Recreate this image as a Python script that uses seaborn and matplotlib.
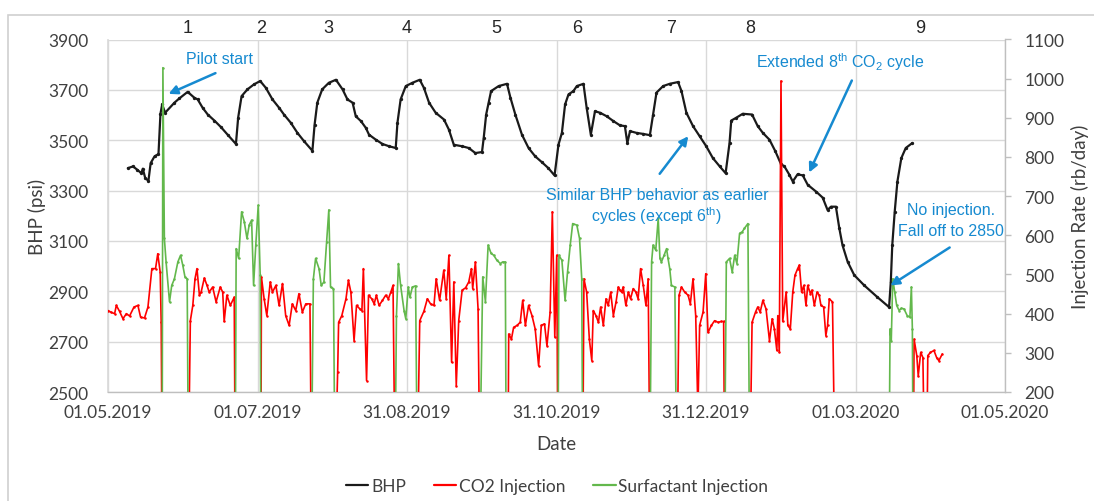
import numpy as np
import pandas as pd
import matplotlib
matplotlib.use("Agg")
import matplotlib.pyplot as plt
import seaborn as sns
from matplotlib.lines import Line2D
from matplotlib.patches import Rectangle

# ---------------- data (days after 01.05.2019) ----------------
bhp_day = [8.1, 10.2, 11.9, 13.6, 14.2, 15.2, 16.5, 17.4, 19.0, 20.6, 21.4, 22.1, 23.3, 27.1, 29.1,
           32.5, 35.2, 36.6, 38.6, 40.7, 43.4, 46.1, 48.8, 52.2, 53.1, 54.5, 56.9, 59.6, 62.1, 64.4,
           67.1, 69.8, 71.8, 74.6, 77.3, 80.0, 83.4, 84.3, 85.4, 87.4, 90.1, 93.0, 95.7, 97.7, 99.8,
           101.1, 103.2, 105.2, 106.5, 109.3, 112.0, 114.7, 117.4, 118.1, 119.4, 121.5, 124.2, 127.2,
           128.9, 131.0, 133.7, 137.1, 139.1, 141.1, 144.5, 147.2, 149.9, 152.6, 153.3, 154.3, 155.3,
           156.3, 159.4, 162.8, 164.2, 166.2, 168.9, 171.6, 174.3, 177.0, 179.7, 182.2, 183.8, 185.2,
           186.5, 187.9, 189.9, 191.3, 194.0, 195.3, 197.0, 198.7, 200.8, 203.5, 206.2, 208.9, 210.9,
           211.9, 213.0, 215.7, 218.4, 221.1, 222.4, 223.8, 226.5, 229.2, 232.6, 234.0, 236.0, 238.7,
           241.4, 244.1, 246.8, 249.6, 252.0, 253.6, 254.3, 256.3, 259.0, 262.8, 265.1, 267.2, 269.9,
           272.3, 274.6, 276.0, 278.0, 279.4, 281.4, 283.5, 285.5, 288.9, 291.6, 293.6, 295.0, 297.0,
           298.4, 299.7, 301.8, 304.5, 308.5, 313.9, 318.7, 319.4, 320.0, 321.0, 322.1, 323.7, 325.5,
           328.2]
bhp_psi = [3389, 3396, 3383, 3369, 3387, 3349, 3339, 3409, 3436, 3445, 3605, 3642, 3609, 3649, 3666,
           3692, 3669, 3662, 3629, 3602, 3578, 3552, 3522, 3485, 3589, 3675, 3702, 3722, 3735, 3708,
           3662, 3629, 3602, 3569, 3529, 3496, 3458, 3562, 3649, 3702, 3728, 3740, 3702, 3662, 3649,
           3595, 3576, 3549, 3522, 3502, 3485, 3476, 3469, 3569, 3662, 3715, 3728, 3740,
           3708, 3649, 3609, 3582, 3542, 3482, 3476, 3469, 3449, 3453, 3509, 3602, 3649,
           3695, 3715, 3724, 3669, 3602, 3522, 3469, 3436, 3413, 3389, 3360, 3482, 3529,
           3642, 3682, 3695, 3715, 3724, 3629, 3522, 3615, 3609, 3595, 3576, 3559, 3556,
           3489, 3536, 3529, 3525, 3520, 3602, 3689, 3715, 3724, 3731, 3695, 3609, 3556,
           3516, 3476, 3429, 3396, 3369, 3489, 3578, 3589, 3605, 3602, 3556, 3529, 3502,
           3456, 3405, 3396, 3363, 3336, 3365, 3360, 3323, 3296, 3272, 3223, 3236, 3236,
           3150, 3083, 3017, 2964, 2924, 2877, 2837, 2937, 3083, 3216, 3336, 3429, 3469,
           3489]

co2_day = [0.0, 1.1, 2.7, 3.4, 4.7, 6.1, 7.5, 8.8, 10.6, 12.2, 13.3, 14.9, 16.3, 17.9, 19.4, 20.3, 21.3,
           21.7, 22.1,
           32.8, 33.6, 34.6, 35.5, 36.3, 37.3, 38.0, 39.3, 40.4, 41.3, 42.7, 44.1, 45.8, 46.8, 47.4, 48.5,
           49.9, 51.5, 51.9,
           62.4, 62.6, 63.7, 64.8, 66.2, 67.1, 68.5, 69.8, 71.2, 72.5, 73.9, 75.2, 76.6, 77.9, 79.3, 80.7,
           82.4, 83.0,
           92.7, 93.7, 94.1, 95.4, 97.1, 98.1, 99.1, 100.4, 101.4, 102.8, 103.6, 104.2, 105.5, 106.3,
           107.6, 108.6, 109.5, 110.6, 112.0, 113.3, 114.4, 115.4, 116.3, 117.1,
           126.2, 127.2, 128.9, 130.3, 131.6, 133.0, 133.9, 135.3, 137.0, 138.0, 139.1, 140.2, 141.1,
           142.1, 143.1, 144.5, 145.9, 147.2, 148.3, 148.8, 149.9, 151.0, 151.7,
           163.2, 163.5, 164.6, 165.5, 166.9, 168.2, 169.2, 170.3, 171.6, 173.0, 174.3, 175.7, 176.8,
           178.1, 179.1, 180.4, 181.3, 182.3, 183.1, 183.6,
           193.7, 194.2, 195.3, 196.4, 197.4, 198.0, 199.1, 200.1, 201.0, 202.1, 203.2, 204.1, 205.1,
           206.2, 207.3, 208.2, 208.9, 209.6, 210.2, 211.3, 212.3, 213.2, 214.3, 215.4, 216.3, 217.3,
           218.4, 219.5, 220.4, 221.1,
           232.2, 233.0, 234.0, 235.3, 236.7, 237.6, 238.7, 239.8, 240.7, 241.4, 242.8, 243.9, 244.8,
           246.2, 247.5, 248.9, 250.2, 251.2, 251.6,
           261.9, 262.8, 264.2, 265.1, 266.1, 267.2, 268.5, 269.9, 271.0, 271.9, 272.9, 273.3, 273.9,
           274.6, 275.3, 276.7, 277.4, 278.4, 279.4, 280.3, 281.4, 282.1, 283.0, 283.9, 284.8, 285.5,
           286.6, 287.2, 288.2, 289.3, 290.2, 290.9, 292.0, 292.9, 293.6, 294.3, 295.6, 296.6,
           328.6, 328.9, 330.0, 330.6, 331.6, 332.5, 333.2, 334.0, 334.5, 335.6, 337.0, 338.1, 339.0,
           340.4]
co2_rate = [408, 404, 400, 421, 406, 387, 400, 394, 417, 421, 391, 389, 417, 515, 515, 553, 506,
            378, 0,
            0, 382, 421, 489, 515, 447, 455, 491, 472, 455, 468, 430, 468, 455, 380, 447,
            421, 442, 0,
            0, 494, 438, 395, 481, 455, 472, 421, 477, 395, 370, 425, 408, 451, 404, 425,
            425, 0,
            0, 250, 378, 395, 438, 485, 455, 331, 421, 412, 408, 515, 229, 447,
            438, 425, 447, 421, 434, 447, 438, 455, 472, 0,
            0, 382, 406, 438, 425, 421, 489, 434, 511, 438, 549, 276, 481,
            216, 382, 460, 466, 481, 515, 464, 532, 412, 0,
            0, 348, 335, 365, 370, 378, 434, 370, 421, 395, 361, 267, 370,
            374, 318, 404, 660, 340, 549, 0,
            0, 489, 455, 335, 280, 408, 395, 378, 417, 370, 438, 421, 455,
            395, 430, 468, 460, 455, 468, 421, 455, 438, 464, 455, 438, 515,
            472, 421, 489, 0,
            0, 447, 468, 455, 447, 425, 489, 395, 150, 370, 404, 502, 352,
            370, 382, 378, 380, 380, 0,
            0, 378, 404, 417, 404, 434, 412, 331, 387, 361, 306, 395, 301,
            994, 380, 455, 370, 361, 455, 498, 515, 524, 455, 472, 421, 472,
            451, 460, 421, 455, 447, 421, 417, 344, 370, 438, 430, 0,
            0, 335, 293, 241, 301, 288, 0, 0, 293, 301, 306, 288, 280,
            297]

surf_day = [22.1, 22.4, 23.0, 23.7, 25.1, 26.0, 27.1, 28.5, 29.6, 30.5, 31.4, 32.3, 32.8,
            51.9, 52.3, 53.3, 54.5, 55.6, 56.7, 57.6, 58.6, 59.4, 60.3, 61.3, 62.1, 62.4,
            83.0, 83.8, 84.7, 86.1, 87.0, 88.1, 89.2, 90.1, 90.8, 92.0, 92.6,
            117.1, 117.7, 118.5, 119.4, 120.8, 121.5, 122.5, 123.2, 124.2, 125.5, 126.2,
            151.7, 152.9, 154.0, 155.1, 156.3, 157.4, 158.7, 160.1, 161.0, 162.1, 162.5,
            183.6, 184.0, 185.2, 186.5, 187.5, 188.6, 189.6, 191.3, 192.4, 193.3, 193.7,
            221.1, 221.8, 222.4, 223.5, 224.5, 225.2, 225.8, 226.9, 227.9, 228.5, 229.2, 229.9, 231.3, 232.0,
            251.6, 252.3, 253.6, 254.7, 255.7, 256.6, 257.7, 258.8, 259.7, 261.1, 261.8,
            318.7, 319.1, 319.6, 320.2, 321.0, 321.8, 322.8, 323.7, 324.8, 326.1, 327.2, 327.8, 328.2, 328.5]
surf_rate = [0, 1028, 592, 532, 430, 472, 489, 532, 549, 524, 494, 489, 0,
             0, 566, 541, 660, 635, 592, 626, 639, 472, 575, 677, 498, 0,
             0, 489, 541, 515, 472, 481, 583, 665, 468, 464, 0,
             0, 395, 528, 472, 408, 387, 468, 442, 468, 471, 0,
             0, 494, 430, 575, 554, 549, 536, 528, 532, 532, 0,
             0, 549, 536, 434, 506, 575, 630, 626, 592, 489, 0,
             0, 532, 575, 562, 643, 541, 532, 549, 566, 541, 515, 472, 468, 0,
             0, 532, 541, 506, 549, 528, 605, 609, 618, 630, 0,
             0, 361, 331, 489, 455, 421, 408, 414, 412, 395, 391, 468, 361, 0]

tick_dates = ["2019-05-01", "2019-07-01", "2019-08-31", "2019-10-31", "2019-12-31", "2020-03-01", "2020-05-01"]
tick_labels = ["01.05.2019", "01.07.2019", "31.08.2019", "31.10.2019", "31.12.2019", "01.03.2020", "01.05.2020"]
bhp_ticks = [2500, 2700, 2900, 3100, 3300, 3500, 3700, 3900]
rate_ticks = [200, 300, 400, 500, 600, 700, 800, 900, 1000, 1100]
cycle_labels = ["1", "2", "3", "4", "5", "6", "7", "8", "9"]
series_names = ["BHP", "CO2 Injection", "Surfactant Injection"]

# ---------------- build frames ----------------
start = pd.Timestamp("2019-05-01")
def to_dates(days):
    return start + pd.to_timedelta(np.array(days, dtype=float), unit="D")

df_bhp = pd.DataFrame({"date": to_dates(bhp_day), "value": bhp_psi})
df_co2 = pd.DataFrame({"date": to_dates(co2_day), "value": co2_rate})
df_surf = pd.DataFrame({"date": to_dates(surf_day), "value": surf_rate})

sns.set_theme(style="white")
plt.rcParams["font.family"] = ["Lato", "DejaVu Sans"]
plt.rcParams["mathtext.fontset"] = "custom"
plt.rcParams["mathtext.rm"] = "Liberation Sans"
plt.rcParams["mathtext.it"] = "Liberation Sans:italic"
plt.rcParams["mathtext.bf"] = "Liberation Sans:bold"

W, H = 1094, 502
fig = plt.figure(figsize=(W / 100, H / 100), dpi=100)
fig.patch.set_facecolor("white")

L, R, T, B = 108, 1005, 40.5, 393
ax = fig.add_axes([L / W, 1 - B / H, (R - L) / W, (B - T) / H])
ax2 = ax.twinx()

black = "#1a1a1a"
red = "#FF0000"
green = "#63B84C"
blue = "#168AD0"
grid_c = "#D9D9D9"
txt_c = "#404040"

sns.lineplot(data=df_bhp, x="date", y="value", ax=ax, color=black, lw=1.6, marker="o",
             markersize=2.4, markeredgewidth=0, sort=False, estimator=None)
sns.lineplot(data=df_co2, x="date", y="value", ax=ax2, color=red, lw=1.2, marker="o",
             markersize=1.8, markeredgewidth=0, sort=False, estimator=None)
sns.lineplot(data=df_surf, x="date", y="value", ax=ax2, color=green, lw=1.2, marker="o",
             markersize=1.8, markeredgewidth=0, sort=False, estimator=None)

xt = pd.to_datetime(tick_dates)
ax.set_xlim(xt[0], xt[-1])
ax.set_ylim(2500, 3900)
ax2.set_ylim(200, 1100)
ax.set_xticks(xt)
ax.set_xticklabels(tick_labels)
ax.set_yticks(bhp_ticks)
ax.set_yticklabels([str(v) for v in bhp_ticks])
ax2.set_yticks(rate_ticks)
ax2.set_yticklabels([str(v) for v in rate_ticks])

ax.grid(True, color=grid_c, lw=1.0)
ax2.grid(False)
ax.set_axisbelow(True)
for s in ["top", "right"]:
    ax.spines[s].set_visible(False)
ax.spines["left"].set_color(grid_c)
ax.spines["bottom"].set_color("#BFBFBF")
ax.spines["bottom"].set_linewidth(1.0)
for s in ["top", "left", "bottom"]:
    ax2.spines[s].set_visible(False)
ax2.spines["right"].set_color("#BFBFBF")
ax2.spines["right"].set_linewidth(1.0)

ax.tick_params(axis="x", length=0, pad=9, labelsize=12.5, labelcolor=txt_c)
ax.tick_params(axis="y", length=0, pad=14, labelsize=12.5, labelcolor=txt_c)
ax2.tick_params(axis="y", length=4, width=1, color="#BFBFBF", pad=10, labelsize=12.5, labelcolor=txt_c)

ax.set_xlabel("Date", fontsize=13.5, color=txt_c, va="center")
ax.xaxis.set_label_coords(0.5, (B - 445) / (B - T))
ax.set_ylabel("BHP (psi)", fontsize=13.5, color=txt_c, va="center")
ax.yaxis.set_label_coords((37 - L) / (R - L), 0.5)
ax2.set_ylabel("Injection Rate (rb/day)", fontsize=13.5, color=txt_c, va="center", rotation=90)
ax2.yaxis.set_label_coords((1080 - L) / (R - L), 0.5)

def fx(x):
    return x / W
def fy(y):
    return 1 - y / H

# cycle numbers
cyc_x = [188, 261, 328, 407, 496, 577, 671, 750, 920]
for lab, cx in zip(cycle_labels, cyc_x):
    fig.text(fx(cx), fy(29), lab, ha="center", va="center", fontsize=13,
             family="Liberation Sans", color="#262626")

# annotations
afont = dict(family="Liberation Sans", color=blue, fontsize=11.5)
fig.text(fx(219), fy(59), "Pilot start", ha="center", va="center", **afont)
fig.text(fx(840), fy(62), r"Extended 8$^{\mathrm{th}}$ CO$_{\mathrm{2}}$ cycle", ha="center", va="center", **afont)
fig.text(fx(657), fy(196), "Similar BHP behavior as earlier", ha="center", va="center", **afont)
fig.text(fx(657), fy(216), r"cycles (except 6$^{\mathrm{th}}$)", ha="center", va="center", **afont)
fig.text(fx(951), fy(210), "No injection.", ha="center", va="center", **afont)
fig.text(fx(951), fy(231), "Fall off to 2850", ha="center", va="center", **afont)

arrows = [((218, 73), (166, 96)), ((853, 79), (808, 176)), ((658, 177), (690, 135)), ((952, 247), (888, 288))]
for (x0, y0), (x1, y1) in arrows:
    fig.add_artist(matplotlib.patches.FancyArrowPatch(
        (fx(x0), fy(y0)), (fx(x1), fy(y1)), transform=fig.transFigure,
        arrowstyle="-|>", mutation_scale=13, color=blue, lw=1.8))

# legend
handles = [Line2D([0], [0], color=c, lw=1.6) for c in [black, red, green]]
fig.legend(handles, series_names, loc="center", bbox_to_anchor=(fx(557), fy(487)), ncol=3,
           frameon=False, handlelength=1.3, handletextpad=0.15, columnspacing=1.6,
           fontsize=12.5, labelcolor=txt_c)

# outer frame (cropped)
fig.add_artist(Rectangle((fx(8), fy(560)), fx(1200), fy(16) - fy(560), transform=fig.transFigure,
                         fill=False, edgecolor="#D0D0D0", lw=1.2))

fig.savefig("out.png", dpi=100, facecolor="white")
